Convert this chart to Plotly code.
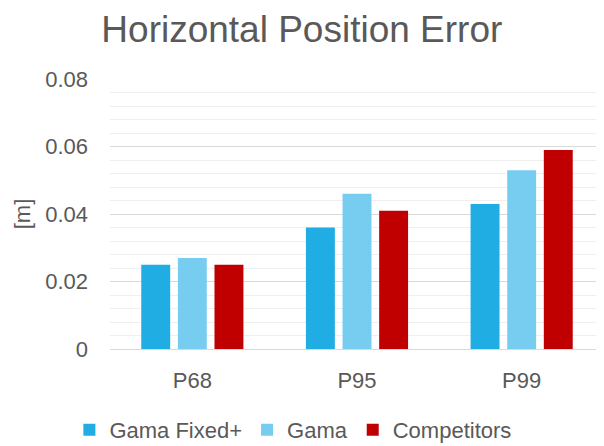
import plotly.graph_objects as go

# Data
categories = ["P68", "P95", "P99"]
gama_fixed = [0.025, 0.036, 0.043]
gama = [0.027, 0.046, 0.053]
competitors = [0.025, 0.041, 0.059]

series = [("Gama Fixed+", gama_fixed, "#1FADE4"),
          ("Gama", gama, "#77CDEF"),
          ("Competitors", competitors, "#C00000")]

fig = go.Figure()
for name, vals, color in series:
    fig.add_trace(go.Bar(x=categories, y=vals, name=name,
                         marker=dict(color=color, line=dict(width=0))))

# page has an 8px body margin, so the figure is a bit smaller than the window
font_color = "#595959"
fig.update_layout(
    width=596, height=438,
    font=dict(family="Liberation Sans, Arial, sans-serif", color=font_color, size=22),
    title=dict(text="Horizontal Position Error", x=0.493, xanchor="center",
               xref="container", y=0.951, yanchor="middle", yref="container",
               font=dict(size=37, color=font_color)),
    paper_bgcolor="white", plot_bgcolor="white",
    margin=dict(l=102, r=0, t=71, b=97),
    barmode="group", bargap=0.333, bargroupgap=0.21,
    showlegend=True,
    legend=dict(orientation="h", x=0.478, xanchor="center", xref="container",
                y=0.0365, yanchor="middle", yref="container",
                font=dict(size=22, color=font_color), itemwidth=30,
                traceorder="normal"),
)
fig.update_yaxes(range=[0, 0.08], dtick=0.02, tickformat="~g",
                 showgrid=True, gridcolor="#D9D9D9", gridwidth=1,
                 minor=dict(dtick=0.004, showgrid=True, gridcolor="#EFEFEF", gridwidth=1),
                 zeroline=True, zerolinecolor="#D9D9D9", zerolinewidth=1,
                 ticks="", ticklabelstandoff=21,
                 title=dict(text="[m]", font=dict(size=22, color=font_color), standoff=8))
fig.update_xaxes(showgrid=False, showline=True, linecolor="#D9D9D9", linewidth=1,
                 ticks="", ticklabelstandoff=12)

fig.write_html("out.html")
